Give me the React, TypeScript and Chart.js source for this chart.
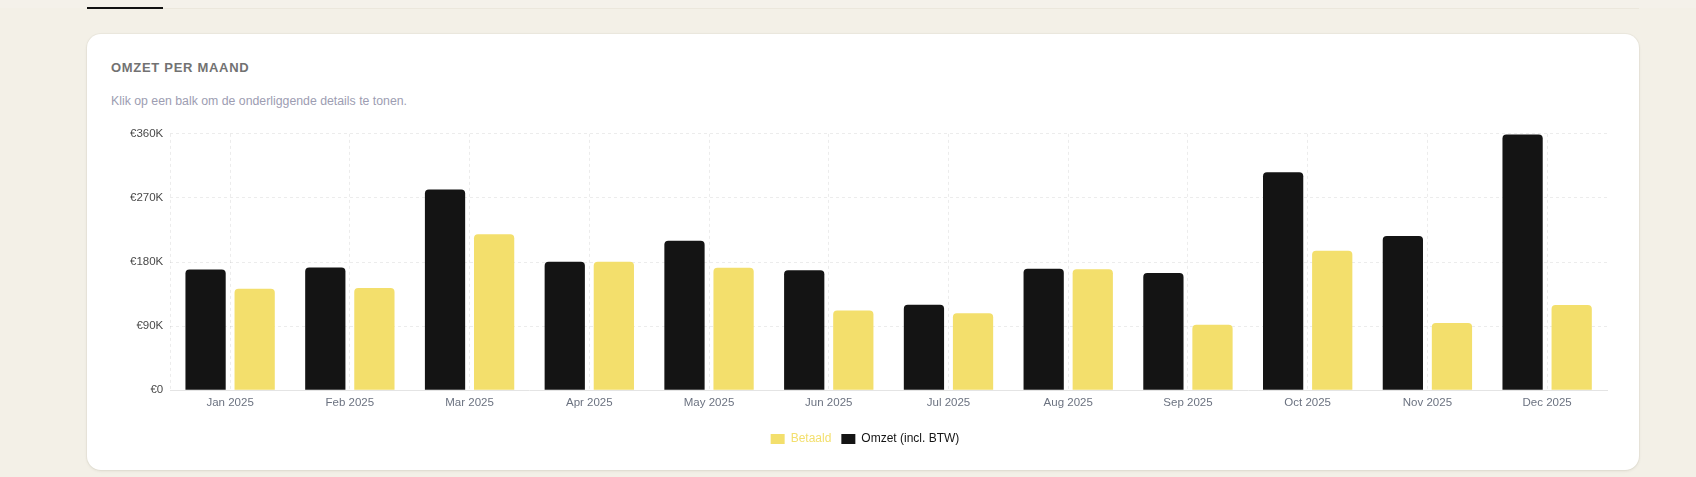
import { useEffect, useRef } from 'react';
import Chart from 'chart.js/auto';

const months = ['Jan 2025', 'Feb 2025', 'Mar 2025', 'Apr 2025', 'May 2025', 'Jun 2025', 'Jul 2025', 'Aug 2025', 'Sep 2025', 'Oct 2025', 'Nov 2025', 'Dec 2025'];
const omzet = [169500, 172500, 282000, 180500, 210000, 168500, 120000, 170500, 164500, 306000, 216500, 359000];
const betaald = [142500, 143500, 219000, 180500, 172000, 112000, 108000, 170000, 92000, 196000, 94500, 119500];
const yTicks = [0, 90000, 180000, 270000, 360000];

const FONT = '"Liberation Sans", Arial, sans-serif';
const BLACK = '#141414';
const YELLOW = '#F3DF6C';
const GRID = 'rgba(0,0,0,0.075)';

function RevenueChart() {
    const canvasRef = useRef<HTMLCanvasElement | null>(null);

    useEffect(() => {
        if (!canvasRef.current) {
            return;
        }

        const chart = new Chart(canvasRef.current, {
            type: 'bar',
            data: {
                labels: months,
                datasets: [
                    {
                        label: 'Omzet (incl. BTW)',
                        data: omzet,
                        backgroundColor: BLACK,
                        borderWidth: 0,
                        borderRadius: 4,
                        categoryPercentage: 0.82,
                        barPercentage: 0.82,
                    },
                    {
                        label: 'Betaald',
                        data: betaald,
                        backgroundColor: YELLOW,
                        borderWidth: 0,
                        borderRadius: 4,
                        categoryPercentage: 0.82,
                        barPercentage: 0.82,
                    },
                ],
            },
            options: {
                animation: false,
                responsive: true,
                maintainAspectRatio: false,
                layout: { padding: { left: 20, right: 1, top: 4, bottom: 0 } },
                scales: {
                    x: {
                        grid: { color: GRID, drawTicks: false, offset: false },
                        border: { display: true, color: '#e4e4e4', width: 1, dash: [3, 3] },
                        ticks: { color: '#6b7280', font: { family: FONT, size: 11.5 }, padding: 6, maxRotation: 0 },
                        afterFit: (s) => {
                            s.height += 7;
                        },
                    },
                    // only used for the dashed left and right edges of the plot
                    xEdges: {
                        type: 'category',
                        position: 'bottom',
                        grid: {
                            offset: true,
                            drawTicks: false,
                            color: (ctx) => (ctx.index === 0 || ctx.index === months.length ? GRID : 'rgba(0,0,0,0)'),
                        },
                        border: { display: false, dash: [3, 3] },
                        ticks: { display: false },
                    },
                    y: {
                        min: 0,
                        max: 360000,
                        afterBuildTicks: (scale) => {
                            scale.ticks = yTicks.map((v) => ({ value: v }));
                        },
                        grid: { color: GRID, drawTicks: false },
                        border: { display: false, dash: [3, 3] },
                        ticks: {
                            color: '#4a4a4a',
                            font: { family: FONT, size: 11.5 },
                            padding: 7,
                            callback: (v) => (Number(v) === 0 ? '€0' : '€' + Number(v) / 1000 + 'K'),
                        },
                    },
                },
                plugins: {
                    legend: {
                        position: 'bottom',
                        reverse: true,
                        labels: {
                            boxWidth: 14,
                            boxHeight: 10,
                            padding: 10,
                            font: { family: FONT, size: 12 },
                            generateLabels: (c) => {
                                const items = Chart.defaults.plugins.legend.labels.generateLabels(c);
                                return items.map((it) => ({
                                    ...it,
                                    fontColor: it.datasetIndex === 1 ? YELLOW : BLACK,
                                    lineWidth: 0,
                                }));
                            },
                        },
                    },
                    tooltip: { enabled: false },
                },
            },
        });
        return () => chart.destroy();
    }, []);

    return <canvas ref={canvasRef} />;
}

export default function App() {
    return (
        <div style={{ position: 'fixed', inset: 0, background: '#f3f0e7', fontFamily: FONT, overflow: 'hidden' }}>
            <div style={{ position: 'absolute', left: 0, right: 0, top: 0, height: 8, background: '#f4f1ea' }} />
            <div style={{ position: 'absolute', left: 163, right: 57, top: 8, height: 1, background: '#ebe7dc' }} />
            <div style={{ position: 'absolute', left: 87, top: 7, width: 76, height: 2, background: '#111' }} />
            <div
                style={{
                    position: 'absolute',
                    left: 87,
                    top: 34,
                    width: 1552,
                    height: 436,
                    background: '#fff',
                    borderRadius: 14,
                    boxShadow: '0 1px 3px rgba(60,50,20,0.10), 0 0 0 1px rgba(60,50,20,0.03)',
                }}
            >
                <div
                    style={{
                        position: 'absolute',
                        left: 24,
                        top: 26,
                        fontSize: 13,
                        fontWeight: 700,
                        letterSpacing: 0.7,
                        color: '#727272',
                    }}
                >
                    OMZET PER MAAND
                </div>
                <div style={{ position: 'absolute', left: 24, top: 60, fontSize: 12.3, color: '#9d9db2' }}>
                    Klik op een balk om de onderliggende details te tonen.
                </div>
                <div style={{ position: 'absolute', left: 16, top: 86, width: 1505, height: 335 }}>
                    <RevenueChart />
                </div>
            </div>
        </div>
    );
}
